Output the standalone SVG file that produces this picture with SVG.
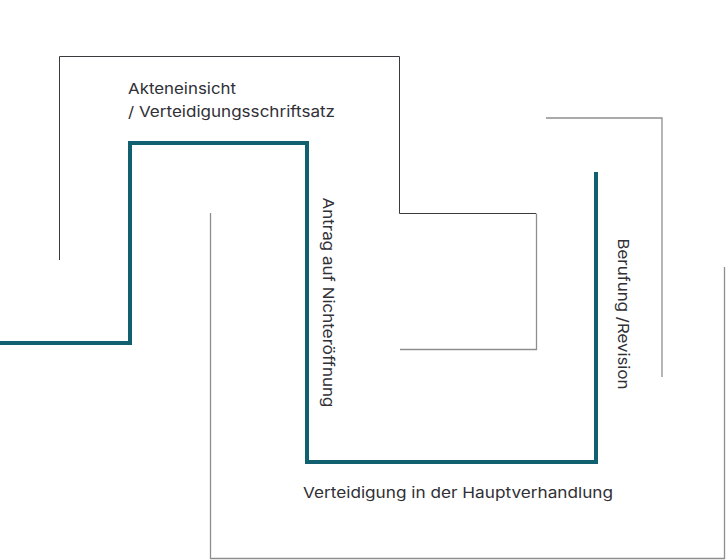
<svg xmlns="http://www.w3.org/2000/svg" width="727" height="560" viewBox="0 0 727 560">
<style>
  .lbl { font-family: "Inter", "Open Sans", "Liberation Sans", sans-serif; font-size: 15px; fill: #303036; }
  .dark { fill: none; stroke: #3a3a3e; stroke-width: 1; }
  .gray { fill: none; stroke: #8e8e90; stroke-width: 1.3; }
  .teal { fill: none; stroke: #11606f; stroke-width: 4; stroke-linejoin: miter; }
</style>
<rect width="727" height="560" fill="#ffffff"/>
<g id="connectors">
  <path class="dark" d="M59.5,260 V56.5 H399.5 V213.5 H536"/>
  <path class="gray" d="M536.5,213.5 V349.5 H400"/>
  <path class="gray" d="M546,118 H662 V377"/>
  <path class="gray" d="M210.5,213 V558.5 H724.5 V267"/>
  <path class="teal" d="M0,343 H130 V143 H307 V462 H596 V172"/>
</g>
<g id="node-akteneinsicht">
  <text class="lbl" x="128" y="94" textLength="108" lengthAdjust="spacingAndGlyphs">Akteneinsicht</text>
  <text class="lbl" x="128" y="117" textLength="207" lengthAdjust="spacingAndGlyphs">/ Verteidigungsschriftsatz</text>
</g>
<g id="node-antrag">
  <text class="lbl" transform="translate(323,197.5) rotate(90)" textLength="210" lengthAdjust="spacingAndGlyphs">Antrag auf Nichteröffnung</text>
</g>
<g id="node-hauptverhandlung">
  <text class="lbl" x="303" y="498" textLength="310" lengthAdjust="spacingAndGlyphs">Verteidigung in der Hauptverhandlung</text>
</g>
<g id="node-berufung">
  <text class="lbl" transform="translate(618,238.5) rotate(90)" textLength="151" lengthAdjust="spacingAndGlyphs">Berufung /Revision</text>
</g>
</svg>
